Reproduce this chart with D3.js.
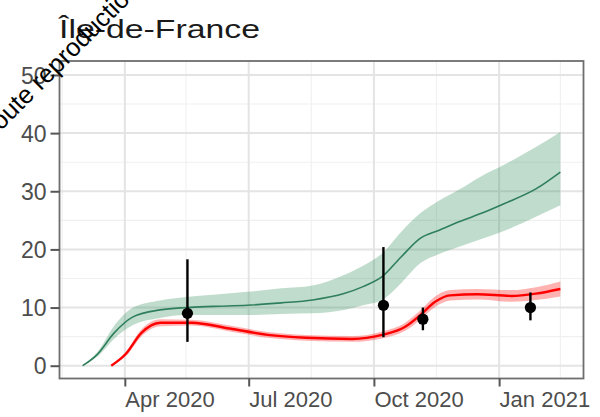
<!DOCTYPE html>
<html><head><meta charset="utf-8">
<script src="https://cdn.jsdelivr.net/npm/d3@7"></script>
<style>
body{margin:0;background:#fff}
svg{display:block}
text{font-family:"Liberation Sans",Arial,Helvetica,sans-serif}
</style>
</head><body>
<svg id="chart" width="600" height="417"></svg>
<script>
// ---- data ----
const greenDates = ["2020-03-01","2020-03-12","2020-03-24","2020-04-07","2020-04-27","2020-05-16","2020-06-05","2020-06-30","2020-07-25","2020-08-17","2020-09-09","2020-09-23","2020-10-07","2020-10-21","2020-11-04","2020-11-18","2020-12-02","2020-12-19","2021-01-05","2021-01-28","2021-02-15"];
const greenMid   = [0, 2.0, 5.6, 8.4, 9.6, 10.0, 10.2, 10.4, 10.8, 11.3, 12.4, 13.6, 15.3, 18.7, 21.9, 23.3, 24.7, 26.2, 27.9, 30.4, 33.3];
const greenLow   = [0, 1.6, 4.6, 7.0, 8.2, 8.7, 8.7, 8.7, 8.9, 9.0, 9.6, 10.4, 11.3, 14.2, 17.6, 19.2, 20.4, 21.8, 23.2, 25.6, 27.6];
const greenHigh  = [0, 2.4, 6.8, 10.0, 11.2, 11.8, 12.2, 12.7, 13.3, 13.8, 15.6, 17.2, 19.3, 23.0, 26.2, 28.4, 30.2, 32.6, 34.6, 37.6, 40.2];

const redDates = ["2020-03-22","2020-04-02","2020-04-13","2020-04-27","2020-05-20","2020-06-17","2020-07-15","2020-08-12","2020-09-15","2020-10-07","2020-10-24","2020-11-04","2020-11-15","2020-11-26","2020-12-16","2021-01-10","2021-01-28","2021-02-15"];
const redMid  = [0, 2.1, 5.6, 7.4, 7.4, 6.4, 5.3, 4.8, 4.6, 5.3, 6.7, 8.7, 11.0, 12.1, 12.3, 12.0, 12.4, 13.2];
const redLow  = [0, 1.7, 5.0, 6.8, 6.9, 5.9, 4.8, 4.3, 4.1, 4.7, 6.0, 7.9, 10.1, 11.2, 11.4, 11.0, 11.3, 11.9];
const redHigh = [0, 2.5, 6.2, 8.0, 7.9, 6.9, 5.8, 5.3, 5.1, 5.9, 7.4, 9.5, 11.9, 13.0, 13.2, 13.0, 13.5, 14.5];

const obsDates = ["2020-05-17","2020-10-08","2020-11-06","2021-01-24"];
const obsMid   = [9.0, 10.4, 8.0, 10.0];
const obsLow   = [4.1, 4.9, 6.1, 7.8];
const obsHigh  = [18.3, 20.4, 10.0, 12.6];

const xTickDates  = ["2020-04-01","2020-07-01","2020-10-01","2021-01-01"];
const xTickLabels = ["Apr 2020","Jul 2020","Oct 2020","Jan 2021"];
const xMinorDates = ["2020-02-15","2020-05-16","2020-08-16","2020-11-16","2021-02-15"];
const yTicks      = [0, 10, 20, 30, 40, 50];
const yMinor      = [5, 15, 25, 35, 45];
const xDomain     = ["2020-02-13","2021-03-04"];
const yDomain     = [-2.2, 52.4];

const title = "Île-de-France";
const watermark = "Toute reproduction";

// ---- drawing ----
const parse = d3.timeParse("%Y-%m-%d");
const svg = d3.select("#chart");
const L = 59.5, R = 583.5, T = 61, B = 378.5;

const x = d3.scaleTime().domain(xDomain.map(parse)).range([L, R]);
const y = d3.scaleLinear().domain(yDomain).range([B, T]);

const g = svg.append("g");

// grid
g.selectAll(".ymin").data(yMinor).join("line")
  .attr("x1", L).attr("x2", R).attr("y1", d => y(d)).attr("y2", d => y(d))
  .attr("stroke", "#f0f0f0").attr("stroke-width", 1.1);
g.selectAll(".xmin").data(xMinorDates.map(parse)).join("line")
  .attr("y1", T).attr("y2", B).attr("x1", d => x(d)).attr("x2", d => x(d))
  .attr("stroke", "#f0f0f0").attr("stroke-width", 1.1);
g.selectAll(".ymaj").data(yTicks).join("line")
  .attr("x1", L).attr("x2", R).attr("y1", d => y(d)).attr("y2", d => y(d))
  .attr("stroke", "#e4e4e4").attr("stroke-width", 2);
g.selectAll(".xmaj").data(xTickDates.map(parse)).join("line")
  .attr("y1", T).attr("y2", B).attr("x1", d => x(d)).attr("x2", d => x(d))
  .attr("stroke", "#e4e4e4").attr("stroke-width", 2);

function series(dates, mid, low, high) {
  return dates.map((d, i) => ({date: parse(d), mid: mid[i], low: low[i], high: high[i]}));
}
const green = series(greenDates, greenMid, greenLow, greenHigh);
const red = series(redDates, redMid, redLow, redHigh);
const obs = series(obsDates, obsMid, obsLow, obsHigh);

const curve = d3.curveMonotoneX;
const area = d3.area().x(d => x(d.date)).y0(d => y(d.low)).y1(d => y(d.high)).curve(curve);
const line = d3.line().x(d => x(d.date)).y(d => y(d.mid)).curve(curve);

g.append("path").datum(green).attr("d", area).attr("fill", "#2e8b57").attr("fill-opacity", 0.3);
g.append("path").datum(red).attr("d", area).attr("fill", "#ff0000").attr("fill-opacity", 0.3);
g.append("path").datum(green).attr("d", line).attr("fill", "none").attr("stroke", "#2f7f5c").attr("stroke-width", 1.6);
g.append("path").datum(red).attr("d", line).attr("fill", "none").attr("stroke", "#ff0000").attr("stroke-width", 2.4);

// observations
g.selectAll(".eb").data(obs).join("line")
  .attr("x1", d => x(d.date)).attr("x2", d => x(d.date))
  .attr("y1", d => y(d.low)).attr("y2", d => y(d.high))
  .attr("stroke", "#000").attr("stroke-width", 2.4);
g.selectAll(".pt").data(obs).join("circle")
  .attr("cx", d => x(d.date)).attr("cy", d => y(d.mid)).attr("r", 5.6).attr("fill", "#000");

// border
svg.append("rect").attr("x", L).attr("y", T).attr("width", R - L).attr("height", B - T)
  .attr("fill", "none").attr("stroke", "#6e6e6e").attr("stroke-width", 1.8);

// axes
const xAxis = d3.axisBottom(x).tickValues(xTickDates.map(parse))
  .tickFormat((d, i) => xTickLabels[i]).tickSize(8).tickPadding(6);
const gx = svg.append("g").attr("transform", `translate(0,${B})`).call(xAxis);
gx.select(".domain").remove();
gx.selectAll(".tick line").attr("stroke", "#555").attr("stroke-width", 2);
gx.selectAll(".tick text").attr("fill", "#4d4d4d").attr("font-size", 22)
  .attr("text-anchor", "start").attr("dy", "0.76em").attr("y", 12);

const yAxis = d3.axisLeft(y).tickValues(yTicks).tickSize(9).tickPadding(4);
const gy = svg.append("g").attr("transform", `translate(${L},0)`).call(yAxis);
gy.select(".domain").remove();
gy.selectAll(".tick line").attr("stroke", "#555").attr("stroke-width", 2);
gy.selectAll(".tick text").attr("fill", "#4d4d4d").attr("font-size", 23).attr("dy", "0.36em");

// title
svg.append("text").attr("x", 59).attr("y", 38).attr("font-size", 26).attr("fill", "#1a1a1a")
  .attr("textLength", 201).attr("lengthAdjust", "spacingAndGlyphs").text(title);

// watermark text
svg.append("text").attr("transform", "translate(-8.3,140.3) rotate(-45)")
  .attr("font-size", 25.5).attr("fill", "#000").text(watermark);
</script>
</body></html>
